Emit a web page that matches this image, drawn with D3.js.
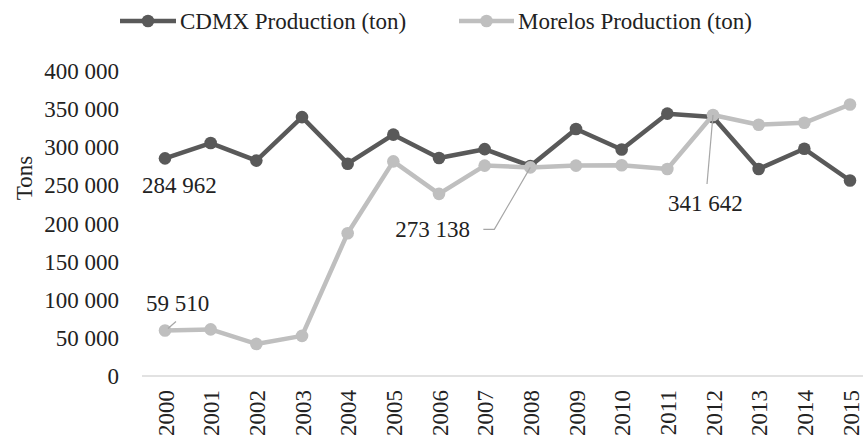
<!DOCTYPE html>
<html>
<head>
<meta charset="utf-8">
<script src="https://cdn.jsdelivr.net/npm/d3@7"></script>
<style>
  html, body { margin: 0; padding: 0; background: #fff; }
  svg { display: block; }
  svg text { font-family: "Liberation Serif", "Tinos", "Times New Roman", "DejaVu Serif", serif !important; fill: #222; }
</style>
</head>
<body>
<svg id="chart" width="863" height="438"></svg>
<script>
const years = ["2000","2001","2002","2003","2004","2005","2006","2007","2008","2009","2010","2011","2012","2013","2014","2015"];
const cdmx = [284962, 305000, 282000, 339000, 278000, 316000, 285500, 297000, 275000, 323500, 296500, 343500, 339000, 271000, 297500, 256000];
const morelos = [59510, 61000, 42000, 52500, 187000, 281000, 238500, 275500, 273138, 275500, 276000, 271000, 341642, 329000, 331500, 355500];
const yTicks = [0, 50000, 100000, 150000, 200000, 250000, 300000, 350000, 400000];
const seriesNames = ["CDMX Production (ton)", "Morelos Production (ton)"];
const seriesColors = ["#595959", "#bfbfbf"];
const annotations = [
  {series: 0, year: "2000", value: 284962},
  {series: 1, year: "2000", value: 59510},
  {series: 1, year: "2008", value: 273138},
  {series: 1, year: "2012", value: 341642}
];

const svg = d3.select("#chart");
const fmt = d3.formatLocale({decimal: ",", thousands: " ", grouping: [3], currency: ["", ""]}).format(",d");

const x = d3.scalePoint().domain(years).range([165, 850]);
const y = d3.scaleLinear().domain([0, 400000]).range([376, 70.5]);

// baseline
svg.append("line")
  .attr("x1", 142).attr("x2", 863)
  .attr("y1", y(0)).attr("y2", y(0))
  .attr("stroke", "#d9d9d9").attr("stroke-width", 1.5);

// y axis
const yAxis = svg.append("g").attr("transform", "translate(128,0)")
  .call(d3.axisLeft(y).tickValues(yTicks).tickSize(0).tickPadding(9).tickFormat(fmt));
yAxis.attr("font-family", null);
yAxis.select(".domain").remove();
yAxis.selectAll("text").attr("font-size", 23).attr("fill", "#222").attr("dy", "0.34em");

// x axis
const xAxis = svg.append("g").attr("transform", `translate(0,${y(0)})`)
  .call(d3.axisBottom(x).tickSize(0));
xAxis.attr("font-family", null);
xAxis.select(".domain").remove();
xAxis.selectAll("text")
  .attr("font-size", 23).attr("fill", "#222")
  .attr("text-anchor", "end")
  .attr("transform", "translate(0,14) rotate(-90)")
  .attr("x", 0).attr("y", 0).attr("dy", "0.35em");

// y label
svg.append("text")
  .attr("transform", "translate(24,178) rotate(-90)")
  .attr("text-anchor", "middle").attr("dy", "0.35em")
  .attr("font-size", 23).text("Tons");

// lines
const data = [cdmx, morelos];
const line = d3.line().x((d, i) => x(years[i])).y(d => y(d));
data.forEach((vals, s) => {
  const g = svg.append("g");
  g.append("path").datum(vals)
    .attr("d", line).attr("fill", "none")
    .attr("stroke", seriesColors[s]).attr("stroke-width", 4.5)
    .attr("stroke-linejoin", "round");
  g.selectAll("circle").data(vals).join("circle")
    .attr("cx", (d, i) => x(years[i])).attr("cy", d => y(d))
    .attr("r", 6.3).attr("fill", seriesColors[s]);
});

// annotations with leader lines
const annLayout = [
  {dx: -23, dy: 27, leader: null},
  {dx: -19, dy: -28, leader: [[3, -2], [11, -9]]},
  {dx: -135, dy: 62, leader: [[-47, 62], [-36, 62], [0, 0]]},
  {dx: -45, dy: 88, leader: [[-6, 69], [0, 0]]}
];
annotations.forEach((a, k) => {
  const px = x(a.year), py = y(a.value);
  const L = annLayout[k];
  if (L.leader) {
    svg.append("path")
      .attr("d", d3.line()(L.leader.map(p => [px + p[0], py + p[1]])))
      .attr("fill", "none").attr("stroke", "#a6a6a6").attr("stroke-width", 1.2);
  }
  svg.append("text")
    .attr("x", px + L.dx).attr("y", py + L.dy)
    .attr("dy", "0.35em").attr("text-anchor", "start")
    .attr("font-size", 23).text(fmt(a.value));
});

// legend
const legendX = [[120, 176], [459, 514]];
seriesNames.forEach((name, s) => {
  const [x1, x2] = legendX[s];
  const cy = 21;
  svg.append("line").attr("x1", x1).attr("x2", x2).attr("y1", cy).attr("y2", cy)
    .attr("stroke", seriesColors[s]).attr("stroke-width", 4.5);
  svg.append("circle").attr("cx", (x1 + x2) / 2).attr("cy", cy).attr("r", 6.3).attr("fill", seriesColors[s]);
  svg.append("text").attr("x", x2 + 4).attr("y", cy).attr("dy", "0.33em")
    .attr("font-size", 23).text(name);
});
</script>
</body>
</html>
